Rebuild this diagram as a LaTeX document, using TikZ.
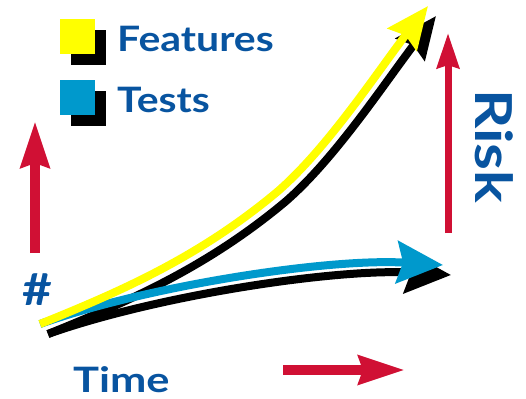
\documentclass[tikz,border=0pt]{standalone}
\usepackage{fontspec}
\setmainfont{Lato}
\newfontfamily\labelfont[FakeStretch=1.17]{Lato}
\newfontfamily\widelabelfont[FakeStretch=1.24]{Lato}
\newfontfamily\risklabelfont[FakeStretch=1.2]{Lato}
\usetikzlibrary{arrows.meta}

\definecolor{riskred}{RGB}{208,16,52}
\definecolor{labelblue}{RGB}{8,84,160}
\definecolor{testcyan}{RGB}{0,153,204}
\definecolor{featyellow}{RGB}{255,255,0}

\tikzset{
    legendbox/.style = {minimum size=35, inner sep=0pt, outer sep=0pt},
    biglabel/.style = {font = {\labelfont\bfseries\fontsize{35}{40}\selectfont}, text=labelblue, inner sep=0pt, text depth=0pt, anchor=base west},
    redarrow/.style = {draw=riskred, line width=10, -{Stealth[length=46pt, width=28pt, inset=4pt]}},
    trend/.style = {line width=8},
    feathead/.style = {-{Stealth[length=42pt, width=36pt, inset=5pt]}},
    testhead/.style = {-{Stealth[length=46pt, width=42pt, inset=6pt]}},
}

\begin{document}
\begin{tikzpicture}[x=1pt, y=-1pt]
    \useasboundingbox (0,0) rectangle (526,398);

    % legend
    \node[legendbox, fill=black] (featshadow) at (88.5,48) {};
    \node[legendbox, fill=featyellow] (featbox) at (77.5,36.5) {};
    \node[biglabel] (features) at (117,52) {Features};
    \node[legendbox, fill=black] (testshadow) at (88.5,109) {};
    \node[legendbox, fill=testcyan] (testbox) at (77.5,97.5) {};
    \node[biglabel] (tests) at (117,113) {Tests};

    % axis labels
    \node[biglabel, font = {\labelfont\bfseries\fontsize{44}{50}\selectfont}] (count) at (22,305) {\#};
    \node[biglabel, font = {\widelabelfont\bfseries\fontsize{35}{40}\selectfont}] (time) at (73,392) {Time};
    \node[biglabel, rotate=-90, font = {\risklabelfont\bfseries\fontsize{51}{56}\selectfont}] (risk) at (475,89) {Risk};

    % red arrows
    \coordinate (countlow) at (35,253);
    \coordinate (counthigh) at (35,121);
    \coordinate (timeleft) at (283,370);
    \coordinate (timeright) at (405,370);
    \coordinate (risklow) at (448,233);
    \coordinate (riskhigh) at (448,33);
    \draw[redarrow] (countlow) -- (counthigh);
    \draw[redarrow] (timeleft) -- (timeright);
    \draw[redarrow, line width=7, -{Stealth[length=35pt, width=22pt, inset=3pt]}] (risklow) -- (riskhigh);

    % trend curves
    \coordinate (origin) at (40,324);
    \coordinate (featend) at (428,6);
    \coordinate (testend) at (443,265);

    % shadows
    \begin{scope}[transform canvas={shift={(8,10)}}]
        \draw[trend, black, feathead] (origin) .. controls (119,292) and (198,258) .. (277,192)
            .. controls (327,149) and (378,71) .. (featend);
        \draw[trend, black, testhead] (origin) .. controls (150,285) and (330,258) .. (testend);
    \end{scope}

    \draw[trend, testcyan, testhead] (origin) .. controls (150,285) and (330,258) .. (testend);
    \draw[trend, featyellow, feathead] (origin) .. controls (119,292) and (198,258) .. (277,192)
        .. controls (327,149) and (378,71) .. (featend);
\end{tikzpicture}
\end{document}
